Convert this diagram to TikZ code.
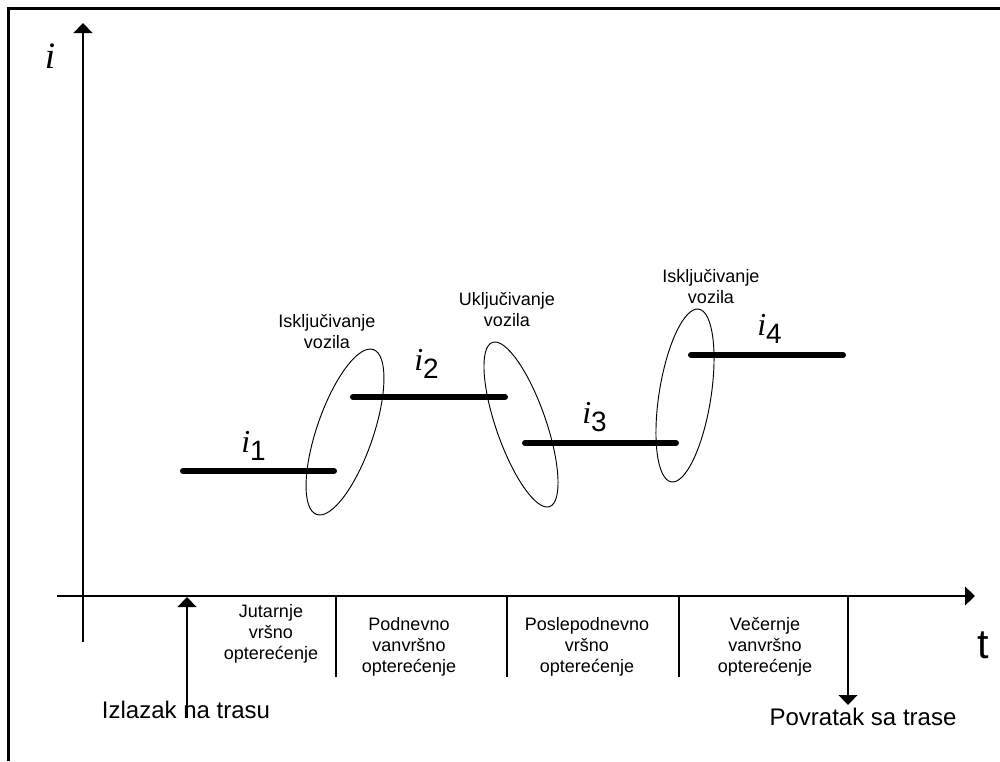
\documentclass[tikz,border=0pt]{standalone}
\usepackage{fontspec}
\setmainfont{Liberation Sans}
\newfontfamily\timesf{Liberation Serif}
\usetikzlibrary{arrows.meta,shapes.geometric}
\begin{document}
\begin{tikzpicture}[x=0.75pt,y=-0.75pt,
  frame/.style={line width=2.2pt},
  axis/.style={line width=1.5pt},
  tip/.style={-{Triangle[width=14pt,length=7.5pt]}},
  bar/.style={line width=4.5pt,line cap=round},
  oval/.style={draw,ellipse,line width=0.7pt,inner sep=0pt,outer sep=0pt},
  lbl/.style={font=\fontsize{13.5}{16}\selectfont,align=center,inner sep=0pt},
  big/.style={font=\fontsize{18}{21}\selectfont,inner sep=0pt},
  ilab/.style={inner sep=0pt,anchor=base west,font=\timesf\itshape\fontsize{24}{24}\selectfont}]
\useasboundingbox (0,0) rectangle (1000,761);
% frame (top and left only)
\draw[frame] (8.5,761) -- (8.5,8.5) -- (1000,8.5);
% axes
\coordinate (ybot) at (83,642);
\coordinate (ytop) at (83,23);
\coordinate (xl) at (57,596);
\coordinate (xr) at (975,596);
\draw[axis,tip] (ybot) -- (ytop);
\draw[axis,tip] (xl) -- (xr);
\node[inner sep=0pt,anchor=base,font=\timesf\itshape\fontsize{28}{28}\selectfont] (ilabel) at (50,68) {i};
\node[inner sep=0pt,anchor=base,font=\fontsize{31}{31}\selectfont] (tlabel) at (983,658) {t};
% separators
\foreach \x/\n in {336/a,507/b,679/c}{
  \coordinate (s\n top) at (\x,596);
  \coordinate (s\n bot) at (\x,677);
  \draw[axis] (s\n top) -- (s\n bot);
}
% period labels
\node[lbl] (p1) at (271,633.8) {Jutarnje\\vršno\\opterećenje};
\node[lbl] (p2) at (409,646.8) {Podnevno\\vanvršno\\opterećenje};
\node[lbl] (p3) at (587,646.8) {Poslepodnevno\\vršno\\opterećenje};
\node[lbl] (p4) at (765,646.8) {Večernje\\vanvršno\\opterećenje};
% start / end of route
\node[big,anchor=base] (izl) at (186,718) {Izlazak na trasu};
\node[big,anchor=base] (pov) at (863,725) {Povratak sa trase};
\coordinate (upbot) at (187,718);
\coordinate (uptop) at (187,597);
\coordinate (dntop) at (848,596);
\coordinate (dnbot) at (848,705);
\draw[axis,tip] (upbot) -- (uptop);
\draw[axis,tip] (dntop) -- (dnbot);
% bars
\draw[bar] (183,471) -- (334,471);
\draw[bar] (353,397) -- (505,397);
\draw[bar] (525,443) -- (676,443);
\draw[bar] (691,355) -- (843,355);
% bar labels
\node[ilab] (i1) at (241,452) {i\raisebox{-6.5pt}{\normalfont\fontsize{21}{21}\selectfont 1}};
\node[ilab] (i2) at (414,370) {i\raisebox{-6.5pt}{\normalfont\fontsize{21}{21}\selectfont 2}};
\node[ilab] (i3) at (582,423) {i\raisebox{-6.5pt}{\normalfont\fontsize{21}{21}\selectfont 3}};
\node[ilab] (i4) at (757,335) {i\raisebox{-6.5pt}{\normalfont\fontsize{21}{21}\selectfont 4}};
% ellipses
\node[oval,minimum width=130.8pt,minimum height=42.3pt,rotate=71] (e1) at (345,432) {};
\node[oval,minimum width=130.4pt,minimum height=37.4pt,rotate=109.2] (e2) at (521,424.5) {};
\node[oval,minimum width=131.2pt,minimum height=38.9pt,rotate=81] (e3) at (685,395.5) {};
% ellipse labels
\node[lbl] (l1) at (327,331.2) {Isključivanje\\vozila};
\node[lbl] (l2) at (507,309.2) {Uključivanje\\vozila};
\node[lbl] (l3) at (711,286.2) {Isključivanje\\vozila};
\end{tikzpicture}
\end{document}
